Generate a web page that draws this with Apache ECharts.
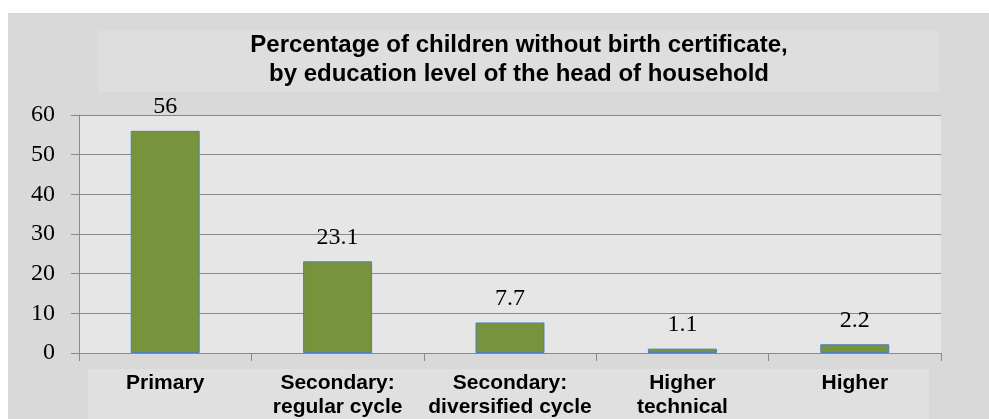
<!DOCTYPE html>
<html><head><meta charset="utf-8">
<script src="https://cdn.jsdelivr.net/npm/echarts@6/dist/echarts.min.js"></script>
<style>html,body{margin:0;padding:0;background:#fff}#c{width:989px;height:419px}</style>
</head><body><div id="c"></div>
<script>
const categories = ['Primary', 'Secondary:\nregular cycle', 'Secondary:\ndiversified cycle', 'Higher\ntechnical', 'Higher'];
const values = [56, 23.1, 7.7, 1.1, 2.2];
const yTicks = [0, 10, 20, 30, 40, 50, 60];
const titleText = 'Percentage of children without birth certificate,\nby education level of the head of household';

const chart = echarts.init(document.getElementById('c'));
chart.setOption({
  animation: false,
  backgroundColor: '#ffffff',
  graphic: [
    { type: 'rect', z: -10, shape: { x: 8, y: 13, width: 981, height: 406 }, style: { fill: '#d9d9d9' } },
    { type: 'rect', z: -9, shape: { x: 98, y: 31, width: 841, height: 61 }, style: { fill: '#dedede' } },
    { type: 'rect', z: -9, shape: { x: 88, y: 369, width: 841, height: 50 }, style: { fill: '#e0e0e0' } }
  ],
  title: {
    text: titleText,
    left: 519, top: 31, textAlign: 'center', padding: 0,
    textStyle: { fontFamily: 'Liberation Sans, Arial', fontWeight: 'bold', fontSize: 24, lineHeight: 29, color: '#000' }
  },
  grid: { left: 79, right: 48, top: 115, bottom: 65, show: true, backgroundColor: '#e6e6e6', borderWidth: 0 },
  xAxis: {
    type: 'category', data: categories,
    axisLine: { lineStyle: { color: '#8a8a8a', width: 1 } },
    axisTick: { show: true, length: 8, lineStyle: { color: '#8a8a8a' } },
    axisLabel: { interval: 0, margin: 18, fontFamily: 'Liberation Sans, Arial', fontWeight: 'bold', fontSize: 21, lineHeight: 24, color: '#000' }
  },
  yAxis: {
    type: 'value', min: 0, max: 60, interval: 10,
    axisLine: { show: true, lineStyle: { color: '#8a8a8a' } },
    axisTick: { show: true, length: 8, lineStyle: { color: '#8a8a8a' } },
    splitLine: { lineStyle: { color: '#8a8a8a', width: 1 } },
    axisLabel: { margin: 24, fontFamily: 'Liberation Serif, Times New Roman', fontSize: 24, color: '#000',
      formatter: v => yTicks.includes(v) ? String(v) : '' }
  },
  series: [{
    type: 'bar', data: values, barWidth: '40%',
    itemStyle: { color: '#77933c', borderColor: '#4a7ebb', borderWidth: 1 },
    label: { show: true, position: 'top', distance: 12, fontFamily: 'Liberation Serif, Times New Roman', fontSize: 24, color: '#000' }
  }]
});
</script></body></html>
